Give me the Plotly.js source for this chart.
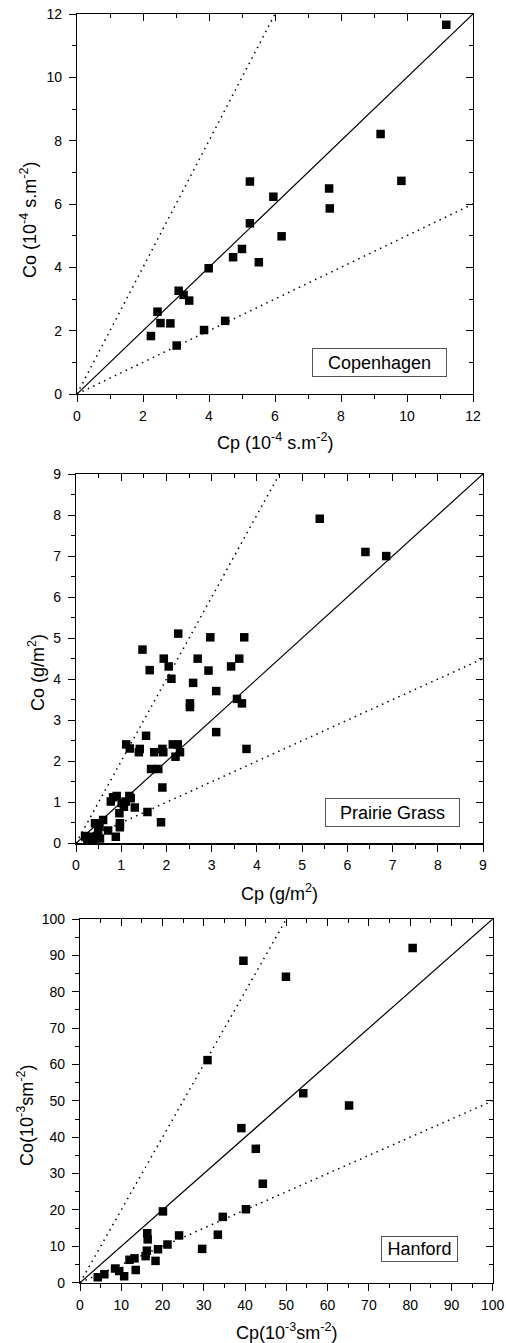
<!DOCTYPE html>
<html>
<head>
<meta charset="utf-8">
<script src="https://cdn.plot.ly/plotly-3.0.1.min.js"></script>
<style>html,body{margin:0;padding:0;background:#fff;}#chart{width:506px;height:1343px;}</style>
</head>
<body>
<div id="chart"></div>
<script>
// ---------------- DATA ----------------
const panelNames = ["Copenhagen", "Prairie Grass", "Hanford"];
const xTitles = ["Cp (10<sup>-4</sup> s.m<sup>-2</sup>)", "Cp (g/m<sup>2</sup>)", "Cp(10<sup>-3</sup>sm<sup>-2</sup>)"];
const yTitles = ["Co (10<sup>-4</sup> s.m<sup>-2</sup>)", "Co (g/m<sup>2</sup>)", "Co(10<sup>-3</sup>sm<sup>-2</sup>)"];
const axisMax = [12, 9, 100];
const majorStep = [2, 1, 10];
const minorStep = [1, 0.5, 5];
const refSlopes = [1, 2, 0.5];

const copCp = [11.19, 9.20, 9.83, 7.64, 7.66, 5.24, 5.95, 5.24, 6.20, 5.00, 4.73, 5.51, 3.99, 3.08, 3.23, 3.40, 2.44, 2.53, 2.83, 2.24, 3.02, 3.85, 4.49];
const copCo = [11.66, 8.21, 6.73, 6.49, 5.86, 6.71, 6.23, 5.39, 4.98, 4.58, 4.32, 4.16, 3.97, 3.26, 3.13, 2.95, 2.60, 2.24, 2.23, 1.83, 1.53, 2.02, 2.31];

const pgCp = [5.39, 6.40, 6.86, 2.26, 2.97, 3.72, 1.47, 1.94, 2.69, 3.61, 1.63, 2.05, 2.93, 3.43, 2.11, 2.59, 3.10, 2.52, 2.52, 3.56, 3.67, 3.10, 3.77, 1.55, 1.11, 1.19, 1.41, 1.39, 1.73, 1.91, 1.93, 2.14, 2.25, 2.30, 2.20, 1.66, 1.82, 1.91, 1.58, 1.88, 0.77, 0.82, 0.90, 1.01, 1.10, 1.18, 1.21, 1.06, 1.30, 0.96, 0.97, 0.97, 0.88, 0.60, 0.52, 0.71, 0.42, 0.49, 0.46, 0.53, 0.31, 0.20, 0.25, 0.38];
const pgCo = [7.91, 7.10, 7.00, 5.11, 5.02, 5.02, 4.72, 4.50, 4.50, 4.50, 4.22, 4.31, 4.21, 4.31, 4.01, 3.91, 3.71, 3.41, 3.32, 3.52, 3.41, 2.71, 2.30, 2.62, 2.41, 2.31, 2.30, 2.22, 2.22, 2.30, 2.22, 2.41, 2.41, 2.22, 2.11, 1.81, 1.81, 1.36, 0.76, 0.51, 1.02, 1.12, 1.15, 0.98, 1.02, 1.15, 1.10, 0.89, 0.87, 0.73, 0.49, 0.39, 0.16, 0.57, 0.41, 0.31, 0.49, 0.31, 0.18, 0.12, 0.16, 0.18, 0.11, 0.10];

const hfCp = [80.6, 39.6, 49.9, 30.9, 54.1, 65.2, 39.1, 42.6, 44.3, 20.1, 40.2, 34.6, 24.0, 33.4, 29.6, 21.2, 18.9, 18.3, 16.3, 16.4, 16.2, 15.9, 13.2, 12.0, 13.5, 8.5, 9.5, 10.7, 5.9, 4.3];
const hfCo = [92.0, 88.5, 84.1, 61.2, 52.1, 48.7, 42.5, 36.8, 27.2, 19.6, 20.2, 18.1, 13.0, 13.2, 9.3, 10.5, 9.2, 6.0, 13.6, 11.9, 8.8, 7.3, 6.7, 6.3, 3.5, 3.9, 3.2, 1.8, 2.3, 1.5];

const seriesX = [copCp, pgCp, hfCp];
const seriesY = [copCo, pgCo, hfCo];

// ---------------- LAYOUT GEOMETRY (pixels) ----------------
const W = 506, H = 1343;
const boxes = [
  {l: 77, r: 473, t: 14, b: 394, xt: 442, yx: 29, yy: 220, lg: {cx: 379.5, cy: 362.5, w: 133, h: 27}},
  {l: 76, r: 483, t: 474, b: 843.3, xt: 892, yx: 36, yy: 673, lg: {cx: 392.5, cy: 812.5, w: 133, h: 27}},
  {l: 80, r: 492.7, t: 919, b: 1282.7, xt: 1331, yx: 25, yy: 1116, lg: {cx: 419.5, cy: 1249, w: 75, h: 24}}
];
const px = v => v / W;
const py = v => 1 - v / H;

const FONT = "Liberation Sans, Arial, Helvetica, sans-serif";
const traces = [];
const layout = {
  width: W, height: H,
  margin: {l: 0, r: 0, t: 0, b: 0},
  paper_bgcolor: "#fff", plot_bgcolor: "#fff",
  showlegend: false,
  font: {family: FONT, color: "#000", size: 14},
  annotations: []
};

function baseAxis(i, extra) {
  return Object.assign({
    range: [0, axisMax[i]],
    tick0: 0, dtick: majorStep[i],
    ticks: "outside", ticklen: 7, tickwidth: 1, tickcolor: "#000",
    minor: {dtick: minorStep[i], ticks: "outside", ticklen: 4, tickwidth: 1, tickcolor: "#000"},
    showline: true, linecolor: "#000", linewidth: 1.2,
    showgrid: false, zeroline: false,
    tickfont: {family: FONT, size: 14, color: "#000"},
    fixedrange: true
  }, extra);
}

for (let i = 0; i < 3; i++) {
  const b = boxes[i];
  const xn = i === 0 ? "" : String(i + 1);
  const on = String(i + 4);
  const xd = [px(b.l), px(b.r)];
  const yd = [py(b.b), py(b.t)];
  layout["xaxis" + xn] = baseAxis(i, {domain: xd, anchor: "y" + xn, ticklabelstandoff: 2});
  layout["yaxis" + xn] = baseAxis(i, {domain: yd, anchor: "x" + xn, ticklabelstandoff: 4});
  // mirrored frame with inward ticks (top & right)
  layout["xaxis" + on] = baseAxis(i, {overlaying: "x" + xn, anchor: "y" + on, side: "top", ticks: "inside",
    minor: {dtick: minorStep[i], ticks: "inside", ticklen: 4, tickwidth: 1, tickcolor: "#000"},
    showticklabels: false});
  layout["yaxis" + on] = baseAxis(i, {overlaying: "y" + xn, anchor: "x" + on, side: "right", ticks: "inside",
    minor: {dtick: minorStep[i], ticks: "inside", ticklen: 4, tickwidth: 1, tickcolor: "#000"},
    showticklabels: false});

  // reference lines y = s*x (1:1 solid, factor-of-two dotted)
  refSlopes.forEach(s => {
    const xe = Math.min(axisMax[i], axisMax[i] / s);
    traces.push({
      x: [0, xe], y: [0, s * xe], type: "scatter", mode: "lines",
      xaxis: "x" + on, yaxis: "y" + on, hoverinfo: "skip",
      line: s === 1 ? {color: "#000", width: 1.2} : {color: "#000", width: 1.5, dash: "1.5px,4.5px"}
    });
  });

  // data
  traces.push({
    x: seriesX[i], y: seriesY[i], type: "scatter", mode: "markers", name: panelNames[i],
    xaxis: "x" + xn, yaxis: "y" + xn,
    marker: {symbol: "square", size: 8.5, color: "#000"}
  });

  // titles
  layout.annotations.push({
    xref: "paper", yref: "paper", x: px((b.l + b.r) / 2), y: py(b.xt),
    xanchor: "center", yanchor: "middle", showarrow: false,
    text: xTitles[i], font: {family: FONT, size: 18, color: "#000"}
  });
  layout.annotations.push({
    xref: "paper", yref: "paper", x: px(b.yx), y: py(b.yy),
    xanchor: "center", yanchor: "middle", showarrow: false, textangle: -90,
    text: yTitles[i], font: {family: FONT, size: 18, color: "#000"}
  });
  // legend box
  layout.annotations.push({
    xref: "paper", yref: "paper", x: px(b.lg.cx), y: py(b.lg.cy),
    xanchor: "center", yanchor: "middle", showarrow: false,
    width: b.lg.w, height: b.lg.h, align: "center", valign: "middle",
    bordercolor: "#555", borderwidth: 1, borderpad: 0, bgcolor: "#fff",
    text: panelNames[i], font: {family: FONT, size: 18, color: "#000"}
  });
}

Plotly.newPlot("chart", traces, layout, {staticPlot: true, displayModeBar: false});
</script>
</body>
</html>
